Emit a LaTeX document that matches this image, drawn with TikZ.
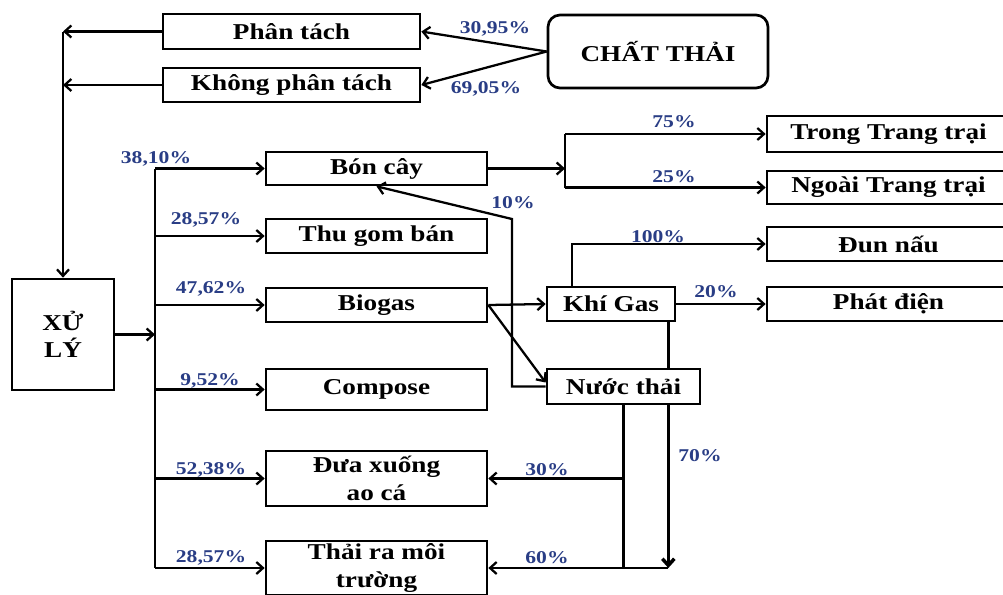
\documentclass[tikz,border=0pt]{standalone}
\usepackage{fontspec}
\setmainfont[FakeStretch=1.2]{Liberation Serif}
\definecolor{myblue}{rgb}{0.16,0.24,0.52}
\usetikzlibrary{arrows.meta,positioning,calc}
\tikzset{
    box/.style={
           rectangle,
           draw=black, line width=2pt,
           fill=white,
           inner sep=2pt,
           text centered,
           font=\fontsize{17}{20.5}\selectfont\bfseries,
           },
    pct/.style={text=myblue, inner sep=0pt, font=\fontsize{13.5}{15}\selectfont\bfseries},
    arr/.style={-{Straight Barb[length=5pt,width=9pt]}, line width=1.7pt},
    ln/.style={line width=1.7pt},
}
\newcommand{\pc}[1]{#1\%}

\begin{document}
\begin{tikzpicture}[x=0.75pt, y=-0.75pt]
      \useasboundingbox (0,0) rectangle (1003,594);
      \clip (0,0) rectangle (1003,594);
      \node[box, rounded corners=9pt, minimum width=165pt, minimum height=54.75pt] (CT) at (658,51.5) {CHẤT THẢI};
      \node[box, minimum width=192.75pt, minimum height=26.25pt] (PT)  at (291.5,31.5) {Phân tách};
      \node[box, minimum width=192.75pt, minimum height=25.5pt]  (KPT) at (291.5,85)   {Không phân tách};
      \node[box, minimum width=76.5pt, minimum height=83.25pt, align=center] (XL) at (63,334.5) {XỬ\\LÝ};
      \node[box, minimum width=165.75pt, minimum height=24.75pt] (BC) at (376.5,168.5) {Bón cây};
      \node[box, minimum width=165.75pt, minimum height=25.5pt]  (TG) at (376.5,236)   {Thu gom bán};
      \node[box, minimum width=165.75pt, minimum height=25.5pt]  (BG) at (376.5,305)   {Biogas};
      \node[box, minimum width=165.75pt, minimum height=30.75pt] (CP) at (376.5,389.5) {Compose};
      \node[box, minimum width=165.75pt, minimum height=41.25pt, align=center] (DX) at (376.5,478.5) {Đưa xuống\\ao cá};
      \node[box, minimum width=165.75pt, minimum height=40.5pt, align=center]  (TR) at (376.5,568)   {Thải ra môi\\trường};
      \node[box, minimum width=96pt, minimum height=25.5pt]      (KG) at (611,304)     {Khí Gas};
      \node[box, minimum width=182.25pt, minimum height=27pt]    (TT) at (888.5,134)   {Trong Trang trại};
      \node[box, minimum width=182.25pt, minimum height=24.75pt] (NG) at (888.5,187.5) {Ngoài Trang trại};
      \node[box, minimum width=182.25pt, minimum height=25.5pt]  (DN) at (888.5,244)   {Đun nấu};
      \node[box, minimum width=182.25pt, minimum height=25.5pt]  (PD) at (888.5,304)   {Phát điện};
      \coordinate (lft) at (XL.north |- PT.west);
      \coordinate (tr) at (155,0);
      \coordinate (sp) at (565,168.5);
      \coordinate (r1) at (512,219);
      \coordinate (j3) at ([xshift=-6pt]KG.south east |- TR.east);
      \draw[arr] (CT.west)  -- (PT.east);
      \draw[arr] (CT.west)  -- (KPT.east);
      \node[pct] at (495,29) {\pc{30,95}};
      \node[pct] at (486,89) {\pc{69,05}};
      \draw[arr] (PT.west)  -- (lft);
      \draw[arr] (KPT.west) -- (XL.north |- KPT.west);
      \draw[arr] (lft) -- (XL.north);
      \draw[arr] (XL.east) -- (XL.east -| tr);
      \draw[ln]  (BC.west -| tr) -- (TR.west -| tr);
      \draw[arr] (BC.west -| tr) -- (BC.west);
      \draw[arr] (TG.west -| tr) -- (TG.west);
      \draw[arr] (BG.west -| tr) -- (BG.west);
      \draw[arr] (CP.west -| tr) -- (CP.west);
      \draw[arr] (DX.west -| tr) -- (DX.west);
      \draw[arr] (TR.west -| tr) -- (TR.west);
      \node[pct] at (156,159) {\pc{38,10}};
      \node[pct] at (206,220) {\pc{28,57}};
      \node[pct] at (211,289) {\pc{47,62}};
      \node[pct] at (210,381) {\pc{9,52}};
      \node[pct] at (211,470) {\pc{52,38}};
      \node[pct] at (211,558) {\pc{28,57}};
      \draw[arr] (BC.east) -- (sp);
      \draw[ln]  (sp |- TT.west) -- (sp |- NG.west);
      \draw[arr] (sp |- TT.west) -- (TT.west);
      \draw[arr] (sp |- NG.west) -- (NG.west);
      \node[pct] at (674,122) {\pc{75}};
      \node[pct] at (674,177) {\pc{25}};
      \draw[arr] (BG.east) -- (KG.west);
      \draw[arr] ([xshift=19.5pt]KG.north west) |- (DN.west);
      \draw[arr] (KG.east) -- (PD.west);
      \node[pct] at (658,237) {\pc{100}};
      \node[pct] at (716,292) {\pc{20}};
      \draw[arr, line width=2.6pt] ([xshift=-6pt]KG.south east) -- (j3);
      \node[pct] at (700,456) {\pc{70}};
      \node[box, minimum width=114.75pt, minimum height=26.25pt] (NT) at (623.5,386.5) {Nước thải};
      \draw[arr] (BG.east) -- ([yshift=3pt]NT.west);
      \draw[arr] (NT.west) -| (r1) -- (BC.south);
      \node[pct] at (513,203) {\pc{10}};
      \draw[ln]  (NT.south) -- (NT.south |- TR.east);
      \draw[arr] (NT.south |- DX.east) -- (DX.east);
      \draw[arr] (j3) -- (TR.east);
      \node[pct] at (547,470) {\pc{30}};
      \node[pct] at (547,558) {\pc{60}};
\end{tikzpicture}
\end{document}
